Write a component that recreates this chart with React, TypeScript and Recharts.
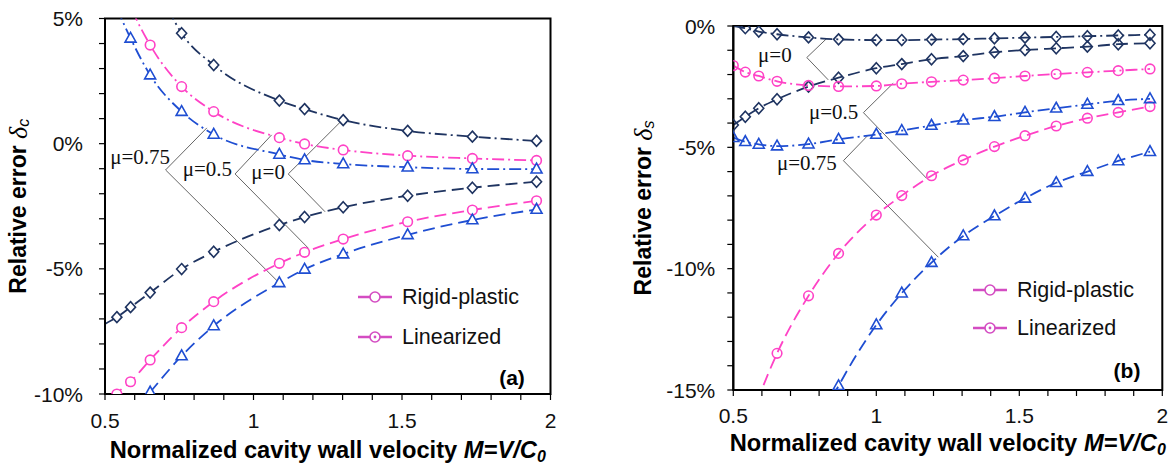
import React from 'react';
import {
  LineChart, Line, XAxis, YAxis, ReferenceLine, ReferenceDot, ReferenceArea, Legend,
} from 'recharts';

const NAVY = '#1f3461';
const PINK = '#ff42c6';
const BLUE = '#1f4ed2';
const LEGEND_PINK = '#d44cc2';
const SANS = "'Liberation Sans', Arial, sans-serif";
const SERIF = 'Liberation Serif';

const xTicks = [0.5, 0.6, 0.7, 0.8, 0.9, 1, 1.1, 1.2, 1.3, 1.4, 1.5, 1.6, 1.7, 1.8, 1.9, 2];
const yTicksA = [-10, -9, -8, -7, -6, -5, -4, -3, -2, -1, 0, 1, 2, 3, 4, 5];
const yTicksB = [-15, -14, -13, -12, -11, -10, -9, -8, -7, -6, -5, -4, -3, -2, -1, 0];

// (a) delta_c, in %
const xA = [0.5, 0.54, 0.586, 0.652, 0.758, 0.866, 1.087, 1.172, 1.302, 1.519, 1.737, 1.953];
const rigidMu0A = [-7.2, -6.93, -6.53, -5.95, -5.01, -4.32, -3.25, -2.93, -2.54, -2.08, -1.76, -1.52];
const rigidMu05A = [-10.8, -10.0, -9.51, -8.64, -7.35, -6.31, -4.78, -4.34, -3.81, -3.12, -2.65, -2.28];
const rigidMu075A = [null, null, null, -9.93, -8.48, -7.28, -5.56, -5.02, -4.41, -3.64, -3.05, -2.63];
const linMu0A = [null, null, null, 7.0, 4.41, 3.14, 1.72, 1.38, 0.94, 0.51, 0.28, 0.11];
const linMu05A = [null, 7.0, 5.5, 3.94, 2.28, 1.28, 0.24, -0.01, -0.25, -0.48, -0.59, -0.67];
const linMu075A = [null, 5.4, 4.21, 2.74, 1.28, 0.37, -0.43, -0.65, -0.81, -0.94, -1.01, -1.02];

// (b) delta_s, in %
const xB = [0.5, 0.542, 0.589, 0.653, 0.763, 0.868, 1.0, 1.089, 1.193, 1.304, 1.413, 1.52, 1.629, 1.738, 1.846, 1.957];
const rigidMu0B = [-4.08, -3.74, -3.39, -3.02, -2.5, -2.13, -1.74, -1.57, -1.37, -1.24, -1.08, -0.99, -0.92, -0.85, -0.75, -0.71];
const rigidMu05B = [-18.3, -16.8, -15.3, -13.49, -11.12, -9.37, -7.79, -6.99, -6.17, -5.52, -4.97, -4.52, -4.12, -3.8, -3.56, -3.32];
const rigidMu075B = [null, null, null, null, -17.3, -14.83, -12.32, -11.01, -9.75, -8.65, -7.83, -7.1, -6.46, -6.0, -5.56, -5.18];
const linMu0B = [0.0, -0.09, -0.23, -0.34, -0.47, -0.55, -0.58, -0.58, -0.56, -0.54, -0.51, -0.48, -0.45, -0.42, -0.39, -0.36];
const linMu05B = [-1.63, -1.9, -2.06, -2.28, -2.45, -2.49, -2.47, -2.38, -2.3, -2.23, -2.15, -2.06, -1.98, -1.91, -1.84, -1.77];
const linMu075B = [-4.6, -4.77, -4.88, -4.95, -4.87, -4.67, -4.47, -4.31, -4.1, -3.88, -3.74, -3.56, -3.39, -3.23, -3.08, -3.0];

// annotation callouts: label anchor (right edge) and the two leader legs from the vertex
const calloutsA = [
  { text: 'μ=0.75', at: [0.719, -0.53], vertex: [0.704, -1.05], up: [0.843, 0.63], down: [1.083, -5.52] },
  { text: 'μ=0.5', at: [0.928, -1.0], vertex: [0.938, -1.21], up: [1.061, 0.35], down: [1.185, -4.18] },
  { text: 'μ=0', at: [1.106, -1.13], vertex: [1.117, -1.21], up: [1.297, 0.92], down: [1.241, -2.72] },
];
const calloutsB = [
  { text: 'μ=0', at: [0.704, -1.19], vertex: [0.757, -1.3], up: [0.827, -0.51], down: [0.832, -2.22] },
  { text: 'μ=0.5', at: [0.937, -3.53], vertex: [0.955, -3.57], up: [1.059, -2.36], down: [1.176, -6.28] },
  { text: 'μ=0.75', at: [0.862, -5.66], vertex: [0.885, -5.55], up: [0.972, -4.49], down: [1.217, -9.53] },
];

type Shape = 'diamond' | 'circle' | 'triangle';
type Series = { key: string; ys: (number | null)[]; color: string; shape: Shape; dashed: boolean };

const seriesA: Series[] = [
  { key: 'r0', ys: rigidMu0A, color: NAVY, shape: 'diamond', dashed: true },
  { key: 'r05', ys: rigidMu05A, color: PINK, shape: 'circle', dashed: true },
  { key: 'r075', ys: rigidMu075A, color: BLUE, shape: 'triangle', dashed: true },
  { key: 'l0', ys: linMu0A, color: NAVY, shape: 'diamond', dashed: false },
  { key: 'l05', ys: linMu05A, color: PINK, shape: 'circle', dashed: false },
  { key: 'l075', ys: linMu075A, color: BLUE, shape: 'triangle', dashed: false },
];
const seriesB: Series[] = [
  { key: 'r0', ys: rigidMu0B, color: NAVY, shape: 'diamond', dashed: true },
  { key: 'r05', ys: rigidMu05B, color: PINK, shape: 'circle', dashed: true },
  { key: 'r075', ys: rigidMu075B, color: BLUE, shape: 'triangle', dashed: true },
  { key: 'l0', ys: linMu0B, color: NAVY, shape: 'diamond', dashed: false },
  { key: 'l05', ys: linMu05B, color: PINK, shape: 'circle', dashed: false },
  { key: 'l075', ys: linMu075B, color: BLUE, shape: 'triangle', dashed: false },
];

function toPoints(xs: number[], ys: (number | null)[]) {
  return xs.map((x, i) => ({ x, y: ys[i] })).filter((p) => p.y != null);
}

function marker(shape: Shape, cx: number, cy: number, color: string, fill: string, key?: any) {
  const common = { key, stroke: color, strokeWidth: 1.6, fill };
  if (shape === 'diamond') {
    return <path {...common} d={`M${cx},${cy - 5.5}L${cx + 5},${cy}L${cx},${cy + 5.5}L${cx - 5},${cy}Z`} />;
  }
  if (shape === 'triangle') {
    return <path {...common} d={`M${cx},${cy - 6}L${cx + 5.5},${cy + 3.8}L${cx - 5.5},${cy + 3.8}Z`} />;
  }
  return <circle {...common} cx={cx} cy={cy} r={4.8} />;
}

function makeDot(s: Series, fill: string, hide: (x: number, y: number) => boolean) {
  return (p: any) => {
    const { cx, cy, payload, index } = p;
    if (cx == null || cy == null || hide(payload.x, payload.y)) return <g key={index} />;
    return marker(s.shape, cx, cy, s.color, fill, index);
  };
}

const yTick = (dx: number) => (p: any) => {
  const v = p.payload.value;
  if (v % 5 !== 0) return <g />;
  return (
    <text x={p.x - dx} y={p.y} textAnchor="end" dominantBaseline="central"
      style={{ fontFamily: SANS, fontSize: 21 }} fill="#111">{`${v}%`}</text>
  );
};

const xTick = (dy: number) => (p: any) => {
  const v = p.payload.value;
  if (Math.abs(v * 2 - Math.round(v * 2)) > 1e-6) return <g />;
  return (
    <text x={p.x} y={p.y + dy} textAnchor="middle" dominantBaseline="central"
      style={{ fontFamily: SANS, fontSize: 21 }} fill="#111">{String(v)}</text>
  );
};

function YTitle({ viewBox, sub, dx }: any) {
  const x = viewBox.x + viewBox.width - dx;
  const y = viewBox.y + viewBox.height / 2;
  return (
    <text transform={`translate(${x},${y}) rotate(-90)`} textAnchor="middle" dominantBaseline="central"
      style={{ fontFamily: SANS, fontSize: 23, fontWeight: 'bold' }} fill="#000">
      Relative error{' '}
      <tspan fontFamily={SERIF} fontStyle="italic" fontWeight="normal" fontSize={26}>δ</tspan>
      <tspan fontStyle="italic" fontWeight="normal" fontSize={16} dy={5}>{sub}</tspan>
    </text>
  );
}

function XTitle({ viewBox, dy }: any) {
  const x = viewBox.x + viewBox.width / 2;
  return (
    <text x={x} y={viewBox.y + dy} textAnchor="middle" dominantBaseline="central"
      style={{ fontFamily: SANS, fontSize: 23.7, fontWeight: 'bold' }} fill="#000">
      Normalized cavity wall velocity{' '}
      <tspan fontStyle="italic">M=V/C</tspan>
      <tspan fontStyle="italic" fontSize={16} dy={6}>0</tspan>
    </text>
  );
}

function LegendBox({ rowGap, tag }: { rowGap: number; tag: string }) {
  const rows = ['Rigid-plastic', 'Linearized'];
  return (
    <svg width={200} height={120} style={{ overflow: 'visible' }}>
      {rows.map((r, i) => {
        const y = 20 + i * rowGap;
        return (
          <g key={r}>
            <line x1={8} x2={42} y1={y} y2={y} stroke={LEGEND_PINK} strokeWidth={2.5} />
            <circle cx={25} cy={y} r={5} fill="#fff" stroke={LEGEND_PINK} strokeWidth={1.6} />
            {i === 1 && <circle cx={25} cy={y} r={1.4} fill={LEGEND_PINK} />}
            <text x={52} y={y} dominantBaseline="central" style={{ fontFamily: SANS, fontSize: 21.5 }} fill="#111">{r}</text>
          </g>
        );
      })}
      <text x={162} y={100} textAnchor="middle" dominantBaseline="central"
        style={{ fontFamily: SANS, fontSize: 21, fontWeight: 'bold' }} fill="#000">{tag}</text>
    </svg>
  );
}

type PanelProps = {
  xs: number[];
  series: Series[];
  callouts: typeof calloutsA;
  yDomain: [number, number];
  yTicks: number[];
  fill: string;
  width: number;
  margin: { top: number; right: number; bottom: number; left: number };
  yLabelDx: number;
  yTitleDx: number;
  xLabelDy: number;
  xTitleDy: number;
  sub: string;
  tag: string;
  legendPos: { left: number; top: number };
  rowGap: number;
  hide: (x: number, y: number) => boolean;
};

function Panel(p: PanelProps) {
  const [y0, y1] = p.yDomain;
  return (
    <LineChart width={p.width} height={465} margin={p.margin}>
      <XAxis type="number" dataKey="x" domain={[0.5, 2]} ticks={xTicks} interval={0} allowDataOverflow
        height={30} tickSize={6} tickLine={{ stroke: '#000', strokeWidth: 1.2 }}
        axisLine={{ stroke: '#000', strokeWidth: 2 }} tick={xTick(p.xLabelDy)}
        label={<XTitle dy={p.xTitleDy} />} />
      <YAxis type="number" dataKey="y" domain={p.yDomain} ticks={p.yTicks} interval={0} allowDataOverflow
        width={60} tickSize={6} tickLine={{ stroke: '#000', strokeWidth: 1.2 }}
        axisLine={{ stroke: '#000', strokeWidth: 2 }} tick={yTick(p.yLabelDx)}
        label={<YTitle sub={p.sub} dx={p.yTitleDx} />} />
      <ReferenceArea x1={0.5} x2={2} y1={y0} y2={y1} fill="none" stroke="#000" strokeWidth={2} />
      {p.callouts.map((c) => (
        <ReferenceLine key={c.text + 'u'} segment={[{ x: c.vertex[0], y: c.vertex[1] }, { x: c.up[0], y: c.up[1] }]}
          stroke="#555" strokeWidth={0.9} />
      ))}
      {p.callouts.map((c) => (
        <ReferenceLine key={c.text + 'd'} segment={[{ x: c.vertex[0], y: c.vertex[1] }, { x: c.down[0], y: c.down[1] }]}
          stroke="#555" strokeWidth={0.9} />
      ))}
      {p.callouts.map((c) => (
        <ReferenceDot key={c.text + 't'} x={c.at[0]} y={c.at[1]} r={0}
          shape={(s: any) => (
            <text x={s.cx} y={s.cy} textAnchor="end" dominantBaseline="central"
              fontFamily={SERIF} fontSize={21} fill="#111">{c.text}</text>
          )} />
      ))}
      {p.series.map((s) => (
        <Line key={s.key} data={toPoints(p.xs, s.ys)} dataKey="y" type="monotone"
          stroke={s.color} strokeWidth={1.8} strokeDasharray={s.dashed ? '12 6' : '12 4 2 4'}
          dot={makeDot(s, p.fill, p.hide)} activeDot={false} isAnimationActive={false} />
      ))}
      <Legend layout="vertical" align="center" verticalAlign="middle"
        wrapperStyle={{ left: p.legendPos.left, top: p.legendPos.top, width: 200, height: 120 }}
        content={() => <LegendBox rowGap={p.rowGap} tag={p.tag} />} />
    </LineChart>
  );
}

export default function App() {
  return (
    <div style={{ position: 'absolute', left: 0, top: 0, width: 1173, height: 465, background: '#fff' }}>
      <div style={{ position: 'absolute', left: 0, top: 0 }}>
        <Panel xs={xA} series={seriesA} callouts={calloutsA} yDomain={[-10, 5]} yTicks={yTicksA}
          fill="#fff" width={580} margin={{ top: 18.5, right: 29.5, bottom: 41, left: 45 }}
          yLabelDx={14} yTitleDx={87} xLabelDy={18} xTitleDy={56} sub="c" tag="(a)"
          legendPos={{ left: 350, top: 277 }} rowGap={40}
          hide={(x, y) => x < 0.52 || y > 5.01 || y < -10.05} />
      </div>
      <div style={{ position: 'absolute', left: 600, top: 0 }}>
        <Panel xs={xB} series={seriesB} callouts={calloutsB} yDomain={[-15, 0]} yTicks={yTicksB}
          fill="none" width={573} margin={{ top: 26, right: 10.7, bottom: 45, left: 73.3 }}
          yLabelDx={10} yTitleDx={90} xLabelDy={17} xTitleDy={53} sub="s" tag="(b)"
          legendPos={{ left: 365, top: 270 }} rowGap={38}
          hide={(x, y) => y > -0.02 || y < -15.05} />
      </div>
    </div>
  );
}
